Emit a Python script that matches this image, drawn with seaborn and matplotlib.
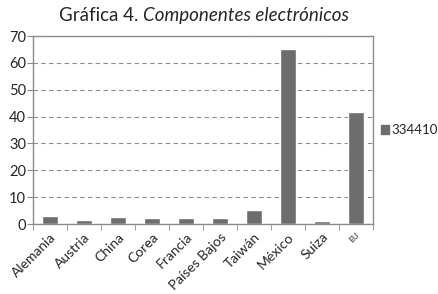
import numpy as np
import pandas as pd
import seaborn as sns
import matplotlib.pyplot as plt
from matplotlib.patches import Patch

# valores
paises = ['Alemania', 'Austria', 'China', 'Corea', 'Francia', 'Países Bajos',
          'Taiwán', 'México', 'Suiza', 'EU']
valores = [3.0, 1.5, 2.7, 2.3, 2.3, 2.3, 5.3, 65.2, 1.0, 41.8]
serie = '334410'

df = pd.DataFrame({'pais': paises, 'valor': valores})

sns.set_style('white')
plt.rcParams['font.family'] = ['Lato', 'DejaVu Sans']

fig = plt.figure(figsize=(4.38, 2.94), dpi=100)
ax = fig.add_axes([0.0753, 0.238, 0.7763, 0.6395])

sns.barplot(data=df, x='pais', y='valor', color='#6d6d6d', width=0.47,
            saturation=1, ax=ax)

ax.set_ylim(0, 70)
ax.set_xlim(-0.5, len(paises) - 0.5)
ax.set_yticks(range(0, 71, 10))
ax.yaxis.grid(True, linestyle=(0, (4, 3)), color='#8c8c8c', linewidth=0.8)
ax.set_axisbelow(True)
ax.set_xlabel('')
ax.set_ylabel('')

for s in ax.spines.values():
    s.set_color('#8c8c8c')
    s.set_linewidth(1.0)

ax.set_xticks(range(len(paises)))
ax.set_xticklabels(paises, rotation=45, ha='right', rotation_mode='anchor')
ax.set_xticks(np.arange(-0.5, len(paises), 1), minor=True)
ax.tick_params(axis='x', which='major', length=0, pad=5, labelsize=10)
ax.tick_params(axis='x', which='minor', length=4, color='#8c8c8c', direction='out', bottom=True)
ax.tick_params(axis='y', length=4, color='#8c8c8c', direction='out', left=True, labelsize=10.5, pad=1)
ax.get_xticklabels()[-1].set_fontsize(6)

ax.legend(handles=[Patch(color='#6d6d6d', label=serie)], loc='center left',
          bbox_to_anchor=(1.0, 0.5), frameon=False, fontsize=9.5,
          handlelength=0.6, handleheight=0.6, handletextpad=0.2, borderaxespad=0.2)

fig.text(0.315, 0.948, 'Gráfica 4.', ha='right', va='center', fontsize=13.5)
fig.text(0.326, 0.948, 'Componentes electrónicos', ha='left', va='center',
         fontsize=13.5, style='italic')

fig.savefig('out.png', dpi=100)
